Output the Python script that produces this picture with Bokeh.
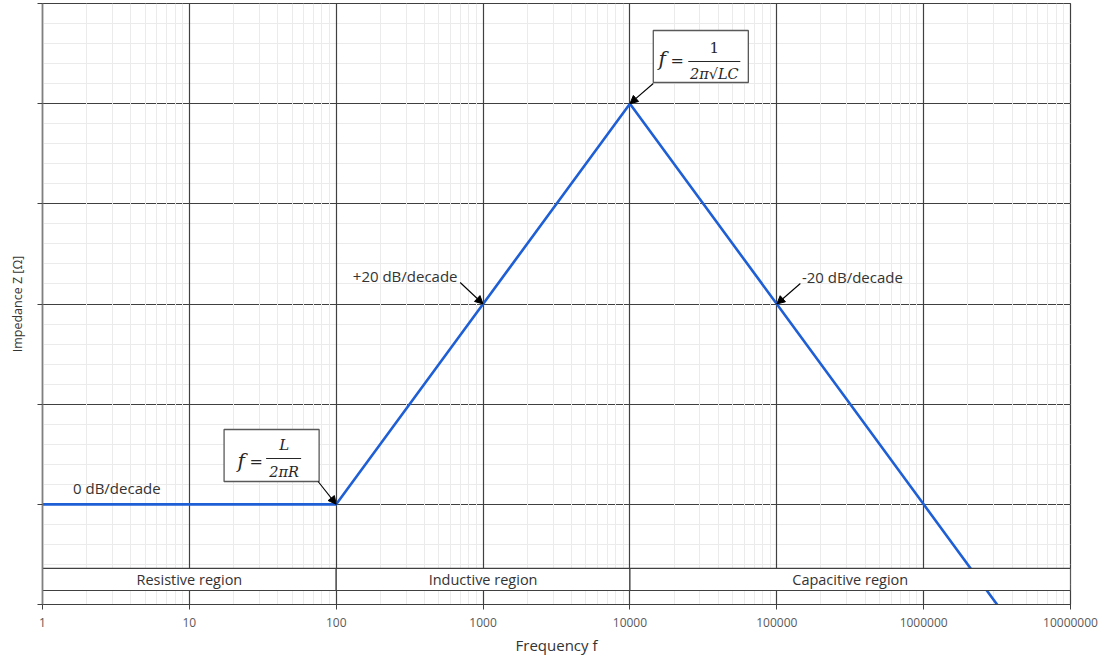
import math
from bokeh.plotting import figure
from bokeh.models import (Range1d, FixedTicker, Grid, Arrow, NormalHead, Label,
                          BoxAnnotation, ColumnDataSource, PrintfTickFormatter)
from bokeh.core.properties import value
from bokeh.embed import file_html
from bokeh.resources import INLINE

# ---------------- data ----------------
frequency_hz = [1, 10, 100, 1000, 10000, 100000, 1000000, 10000000]
impedance_db = [10, 10, 10, 30, 50, 30, 10, -10]

x_tick_values = [1, 10, 100, 1000, 10000, 100000, 1000000, 10000000]
x_tick_labels = ["1", "10", "100", "1000", "10000", "100000", "1000000", "10000000"]
y_major_db = [0, 10, 20, 30, 40, 50, 60]

region_names = ["Resistive region", "Inductive region", "Capacitive region"]
region_start_hz = [1, 100, 10000]
region_end_hz = [100, 10000, 10000000]

slope_labels = ["0 dB/decade", "+20 dB/decade", "-20 dB/decade"]

# ---------------- styling ----------------
SANS = "Open Sans"
MATH = "DejaVu Serif"
TXT = "#333333"
GRID_DARK = "#404040"
GRID_LIGHT = "#ebebeb"
BLUE = "#1F5FD6"


def fx(px):
    """reference-pixel x -> frequency"""
    return 10 ** ((px - 42.5) / 146.79)


def fy(py):
    """reference-pixel y -> dB"""
    return (604 - py) / 10.017


p = figure(x_axis_type="log", x_range=Range1d(1, 1e7), y_range=Range1d(0, 60),
           frame_width=1028, frame_height=601,
           min_border_left=42, min_border_right=34, min_border_top=3, min_border_bottom=55,
           output_backend="svg", toolbar_location=None,
           background_fill_color="white", border_fill_color="white")

p.outline_line_color = GRID_DARK
p.outline_line_width = 1.2
p.xgrid.visible = False
p.ygrid.visible = False

# x axis
p.xaxis.ticker = FixedTicker(ticks=x_tick_values)
p.xaxis.formatter = PrintfTickFormatter(format="%d")
p.xaxis.major_label_overrides = {float(v): s for v, s in zip(x_tick_values, x_tick_labels)}
p.xaxis.minor_tick_line_color = None
p.xaxis.major_tick_in = 0
p.xaxis.major_tick_out = 5
p.xaxis.major_tick_line_color = GRID_DARK
p.xaxis.axis_line_color = GRID_DARK
p.xaxis.axis_line_width = 1.2
p.xaxis.major_label_text_font = SANS
p.xaxis.major_label_text_font_size = "12px"
p.xaxis.major_label_text_color = "#595959"
p.xaxis.major_label_standoff = 8
p.xaxis.axis_label = "Frequency f"
p.xaxis.axis_label_text_font = SANS
p.xaxis.axis_label_text_font_size = "15px"
p.xaxis.axis_label_text_font_style = "normal"
p.xaxis.axis_label_text_color = TXT
p.xaxis.axis_label_standoff = 5

# y axis (no tick labels)
p.yaxis.ticker = FixedTicker(ticks=y_major_db)
p.yaxis.major_label_overrides = {v: "" for v in y_major_db}
p.yaxis.minor_tick_line_color = None
p.yaxis.major_tick_in = 0
p.yaxis.major_tick_out = 5
p.yaxis.major_tick_line_color = GRID_DARK
p.yaxis.axis_line_color = "#7f7f7f"
p.yaxis.axis_line_width = 1.6
p.yaxis.major_label_standoff = 5
p.yaxis.axis_label = "Impedance Z [Ω]"
p.yaxis.axis_label_text_font = SANS
p.yaxis.axis_label_text_font_size = "12.5px"
p.yaxis.axis_label_text_font_style = "normal"
p.yaxis.axis_label_text_color = TXT
p.yaxis.axis_label_standoff = 12

# grids: horizontal first, vertical on top
ygrid = Grid(dimension=1,
             ticker=FixedTicker(ticks=y_major_db[1:-1], minor_ticks=list(range(2, 60, 2))),
             grid_line_color=GRID_DARK, grid_line_width=1.2,
             minor_grid_line_color=GRID_LIGHT, minor_grid_line_width=1)
xgrid = Grid(dimension=0,
             ticker=FixedTicker(ticks=x_tick_values[1:-1],
                                minor_ticks=[m * 10 ** d for d in range(7) for m in range(2, 10)]),
             grid_line_color=GRID_DARK, grid_line_width=1.2,
             minor_grid_line_color=GRID_LIGHT, minor_grid_line_width=1)
p.add_layout(ygrid)
p.add_layout(xgrid)

# impedance curve
p.line(frequency_hz, impedance_db, line_color=BLUE, line_width=2.6)

# region band
src = ColumnDataSource(dict(
    name=region_names, left=region_start_hz, right=region_end_hz,
    center=[math.sqrt(a * b) for a, b in zip(region_start_hz, region_end_hz)]))
p.quad(left="left", right="right", bottom=1.4, top=3.6, source=src,
       fill_color="white", line_color=GRID_DARK, line_width=1.2)
p.text(x="center", y=2.5, text="name", source=src, text_font=value(SANS),
       text_font_size="14.5px", text_align="center", text_baseline="middle",
       text_color=TXT)


def label(x, y, text, align="center", font=SANS, size="15px", style="normal",
          baseline="middle", color=TXT):
    p.add_layout(Label(x=x, y=y, text=text, text_align=align, text_baseline=baseline,
                       text_font=font, text_font_size=size, text_font_style=style,
                       text_color=color))


# slope labels
label(fx(73), fy(487), slope_labels[0], align="left")
label(fx(405), fy(275), slope_labels[1])
label(fx(852), fy(276), slope_labels[2])

# formula boxes
for l, r, t, b in [(653, 748, 30, 82), (224, 319, 429, 481)]:
    p.add_layout(BoxAnnotation(left=fx(l), right=fx(r), top=fy(t), bottom=fy(b),
                               fill_color="white", fill_alpha=1.0,
                               line_color="#595959", line_width=1.3, line_alpha=1.0))


def bar(x0, x1, y):
    p.add_layout(Arrow(x_start=fx(x0), x_end=fx(x1), y_start=fy(y), y_end=fy(y),
                       start=None, end=None, line_color="#262626", line_width=1.1))


MC = "#262626"
# f = 1 / (2 pi sqrt(LC))
label(fx(662), fy(58), "f", font=MATH, size="20px", style="italic", color=MC)
label(fx(677), fy(60), "=", font=MATH, size="16px", color=MC)
bar(688, 740, 61)
label(fx(714), fy(47), "1", font=MATH, size="15px", color=MC)
label(fx(714), fy(73), "2π√LC", font=MATH, size="14.5px", style="italic", color=MC)

# f = L / (2 pi R)
label(fx(241), fy(460), "f", font=MATH, size="20px", style="italic", color=MC)
label(fx(256), fy(461), "=", font=MATH, size="16px", color=MC)
bar(266, 301, 458)
label(fx(284), fy(444), "L", font=MATH, size="15px", style="italic", color=MC)
label(fx(284), fy(471), "2πR", font=MATH, size="14.5px", style="italic", color=MC)


# arrows
def arrow(px, py, xe, ye):
    p.add_layout(Arrow(x_start=fx(px), y_start=fy(py), x_end=xe, y_end=ye,
                       line_color="black", line_width=1.1,
                       end=NormalHead(size=8, fill_color="black", line_color="black")))


arrow(460, 282, frequency_hz[3], impedance_db[3])
arrow(800, 283, frequency_hz[5], impedance_db[5])
arrow(653, 83, frequency_hz[4], impedance_db[4])
arrow(318, 481, frequency_hz[2], impedance_db[2])

open("out.html", "w").write(file_html(p, INLINE))
